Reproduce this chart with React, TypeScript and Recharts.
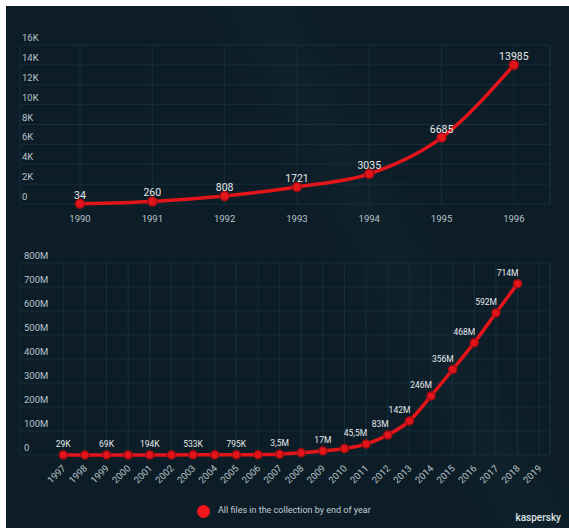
import { LineChart, Line, XAxis, YAxis, CartesianGrid, LabelList, ReferenceLine } from 'recharts';

// top chart: 1990-1996, file count
const earlyYears = [1990, 1991, 1992, 1993, 1994, 1995, 1996];
const earlyFiles = [34, 260, 808, 1721, 3035, 6685, 13985];
const earlyLabels = ['34', '260', '808', '1721', '3035', '6685', '13985'];
const earlyTicks = [0, 2000, 4000, 6000, 8000, 10000, 12000, 14000, 16000];
const earlyTickLabels = ['0', '2K', '4K', '6K', '8K', '10K', '12K', '14K', '16K'];

// bottom chart: 1997-2019, millions of files
const lateYears = [1997, 1998, 1999, 2000, 2001, 2002, 2003, 2004, 2005, 2006, 2007, 2008, 2009, 2010, 2011, 2012, 2013, 2014, 2015, 2016, 2017, 2018, 2019];
const lateFiles = [0.029, 0.045, 0.069, 0.12, 0.194, 0.35, 0.533, 0.65, 0.795, 1.5, 3.5, 9, 17, 27, 45.5, 83, 142, 246, 356, 468, 592, 714, null];
const lateLabels = ['29K', '', '69K', '', '194K', '', '533K', '', '795K', '', '3,5M', '', '17M', '', '45,5M', '83M', '142M', '246M', '356M', '468M', '592M', '714M', ''];
const lateTicks = [0, 100, 200, 300, 400, 500, 600, 700, 800];
const lateTickLabels = ['0', '100M', '200M', '300M', '400M', '500M', '600M', '700M', '800M'];

const earlyData = earlyYears.map((year, i) => ({ year, files: earlyFiles[i], label: earlyLabels[i] }));
const lateData = lateYears.map((year, i) => ({ year, files: lateFiles[i], label: lateLabels[i] }));

const FONT = 'Roboto, "Noto Sans", sans-serif';
const BG = '#0c1d27';
const GRID = '#1a3440';
const RED = '#e3151b';
const AXIS_TEXT = '#b9c3c8';
const VALUE_TEXT = '#e6e9eb';

function YTick(props: any) {
  const { y, payload, labels, ticks, left } = props;
  const idx = ticks.indexOf(payload.value);
  return (
    <text x={left} y={y - 4} fill={AXIS_TEXT} fontSize={9.5} fontFamily={FONT} textAnchor="start">
      {labels[idx]}
    </text>
  );
}

function EarlyXTick(props: any) {
  const { x, y, payload } = props;
  return (
    <text x={x} y={y + 10} fill={AXIS_TEXT} fontSize={9.5} fontFamily={FONT} textAnchor="middle">
      {payload.value}
    </text>
  );
}

function LateXTick(props: any) {
  const { x, y, payload } = props;
  return (
    <text
      x={x + 3}
      y={y + 6}
      fill={AXIS_TEXT}
      fontSize={9.5}
      fontFamily={FONT}
      textAnchor="end"
      transform={`rotate(-45 ${x + 3} ${y + 6})`}
    >
      {payload.value}
    </text>
  );
}

function EarlyValue(props: any) {
  const { x, y, value } = props;
  return (
    <text x={x} y={y - 5} fill={VALUE_TEXT} fontSize={10.5} fontFamily={FONT} textAnchor="middle">
      {value}
    </text>
  );
}

function LateValue(props: any) {
  const { x, y, value, index } = props;
  if (!value) return null;
  const steep = index >= 14;
  return (
    <text
      x={steep ? x + 1 : x}
      y={y - 8}
      fill={VALUE_TEXT}
      fontSize={8.5}
      fontFamily={FONT}
      textAnchor={steep ? 'end' : 'middle'}
    >
      {value}
    </text>
  );
}

export default function App() {
  return (
    <div style={{ position: 'absolute', left: 0, top: 0, width: 569, height: 528, background: '#ffffff', overflow: 'hidden' }}>
      <div
        style={{
          position: 'absolute',
          left: 6,
          top: 6,
          width: 563,
          height: 522,
          background: `linear-gradient(62deg, ${BG} 0%, ${BG} 56%, #0f212b 63%, ${BG} 70%, ${BG} 100%)`,
        }}
      />

      <div style={{ position: 'absolute', left: 0, top: 0 }}>
        <LineChart width={569} height={230} data={earlyData} margin={{ top: 45, right: 19, bottom: 0, left: 19 }}>
          <CartesianGrid stroke={GRID} strokeWidth={0.8} />
          <XAxis
            dataKey="year"
            type="number"
            domain={[1989.17, 1996.5]}
            ticks={earlyYears}
            axisLine={false}
            tickLine={false}
            height={26}
            interval={0}
            tick={<EarlyXTick />}
          />
          <YAxis
            type="number"
            domain={[0, 16000]}
            ticks={earlyTicks}
            axisLine={false}
            tickLine={false}
            width={1}
            interval={0}
            tick={<YTick labels={earlyTickLabels} ticks={earlyTicks} left={22} />}
          />
          <ReferenceLine x={1996.5} stroke={GRID} strokeWidth={0.8} />
          <Line
            type="monotone"
            dataKey="files"
            stroke={RED}
            strokeWidth={3.5}
            dot={{ r: 4.5, fill: RED, stroke: '#a50d12', strokeWidth: 1.5 }}
            isAnimationActive={false}
          >
            <LabelList dataKey="label" content={<EarlyValue />} />
          </Line>
        </LineChart>
      </div>

      <div style={{ position: 'absolute', left: 0, top: 240 }}>
        <LineChart width={569} height={270} data={lateData} margin={{ top: 23, right: 19, bottom: 0, left: 19 }}>
          <CartesianGrid stroke={GRID} strokeWidth={0.8} />
          <XAxis
            dataKey="year"
            type="number"
            domain={[1995, 2019.5]}
            ticks={lateYears}
            axisLine={false}
            tickLine={false}
            height={55}
            interval={0}
            tick={<LateXTick />}
          />
          <YAxis
            type="number"
            domain={[0, 800]}
            ticks={lateTicks}
            axisLine={false}
            tickLine={false}
            width={1}
            interval={0}
            tick={<YTick labels={lateTickLabels} ticks={lateTicks} left={24} />}
          />
          <ReferenceLine x={2019.5} stroke={GRID} strokeWidth={0.8} />
          <Line
            type="monotone"
            dataKey="files"
            stroke={RED}
            strokeWidth={3.5}
            dot={{ r: 4, fill: RED, stroke: '#a50d12', strokeWidth: 1.5 }}
            isAnimationActive={false}
          >
            <LabelList dataKey="label" content={<LateValue />} />
          </Line>
        </LineChart>
      </div>

      <div style={{ position: 'absolute', left: 197, top: 505, width: 13, height: 13, borderRadius: '50%', background: '#f0161c' }} />
      <div style={{ position: 'absolute', left: 218, top: 505, fontFamily: FONT, fontSize: 9, color: '#c3cbd0', whiteSpace: 'nowrap' }}>
        All files in the collection by end of year
      </div>
      <div style={{ position: 'absolute', right: 8, top: 512, fontFamily: FONT, fontSize: 10, fontWeight: 500, color: '#dfe4e6', whiteSpace: 'nowrap' }}>
        kaspersky
      </div>
    </div>
  );
}
